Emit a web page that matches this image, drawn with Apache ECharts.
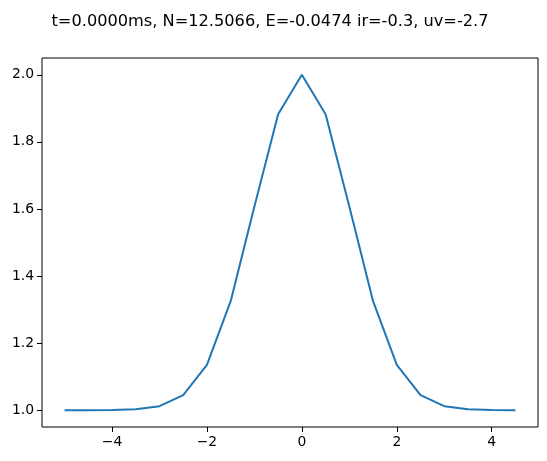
<!DOCTYPE html>
<html><head><meta charset="utf-8">
<script src="https://cdn.jsdelivr.net/npm/echarts@6/dist/echarts.min.js"></script>
<style>html,body{margin:0;padding:0;background:#fff}#c{width:547px;height:461px}</style>
</head><body><div id="c"></div>
<script>
const titleText = "t=0.0000ms, N=12.5066, E=-0.0474 ir=-0.3, uv=-2.7";
const xValues = [-5,-4.5,-4,-3.5,-3,-2.5,-2,-1.5,-1,-0.5,0,0.5,1,1.5,2,2.5,3,3.5,4,4.5];
const yValues = [1.000,1.000,1.001,1.003,1.012,1.045,1.135,1.325,1.607,1.882,2.000,1.882,1.607,1.325,1.135,1.045,1.012,1.003,1.001,1.000];
const xTicks = [-4,-2,0,2,4];
const yTicks = [1.0,1.2,1.4,1.6,1.8,2.0];

const chart = echarts.init(document.getElementById('c'), null, {renderer:'canvas'});
const font = "DejaVu Sans";
chart.setOption({
  animation:false,
  title:{text:titleText, left:265, top:9, textAlign:'center',
    textStyle:{fontFamily:font, fontSize:16.2, fontWeight:'normal', color:'#000'}},
  grid:{left:42, right:9, top:58, bottom:34, show:true, borderColor:'#000', borderWidth:1, containLabel:false},
  xAxis:{type:'value', min:-5.475, max:4.975, position:'bottom',
    axisLine:{show:false, onZero:false}, splitLine:{show:false},
    axisTick:{show:true, customValues:xTicks, length:5, lineStyle:{color:'#000'}},
    axisLabel:{customValues:xTicks, color:'#000', fontFamily:font, fontSize:13.9, margin:8,
      formatter:v=>(v<0?'\u2212'+Math.abs(v):String(v))}},
  yAxis:{type:'value', min:0.95, max:2.05, position:'left',
    axisLine:{show:false, onZero:false}, splitLine:{show:false},
    axisTick:{show:true, customValues:yTicks, length:5, lineStyle:{color:'#000'}},
    axisLabel:{customValues:yTicks, color:'#000', fontFamily:font, fontSize:13.9, margin:8,
      formatter:v=>v.toFixed(1)}},
  series:[{type:'line', data:xValues.map((x,i)=>[x,yValues[i]]), showSymbol:false,
    lineStyle:{color:'#1f77b4', width:2}}]
});
</script></body></html>
